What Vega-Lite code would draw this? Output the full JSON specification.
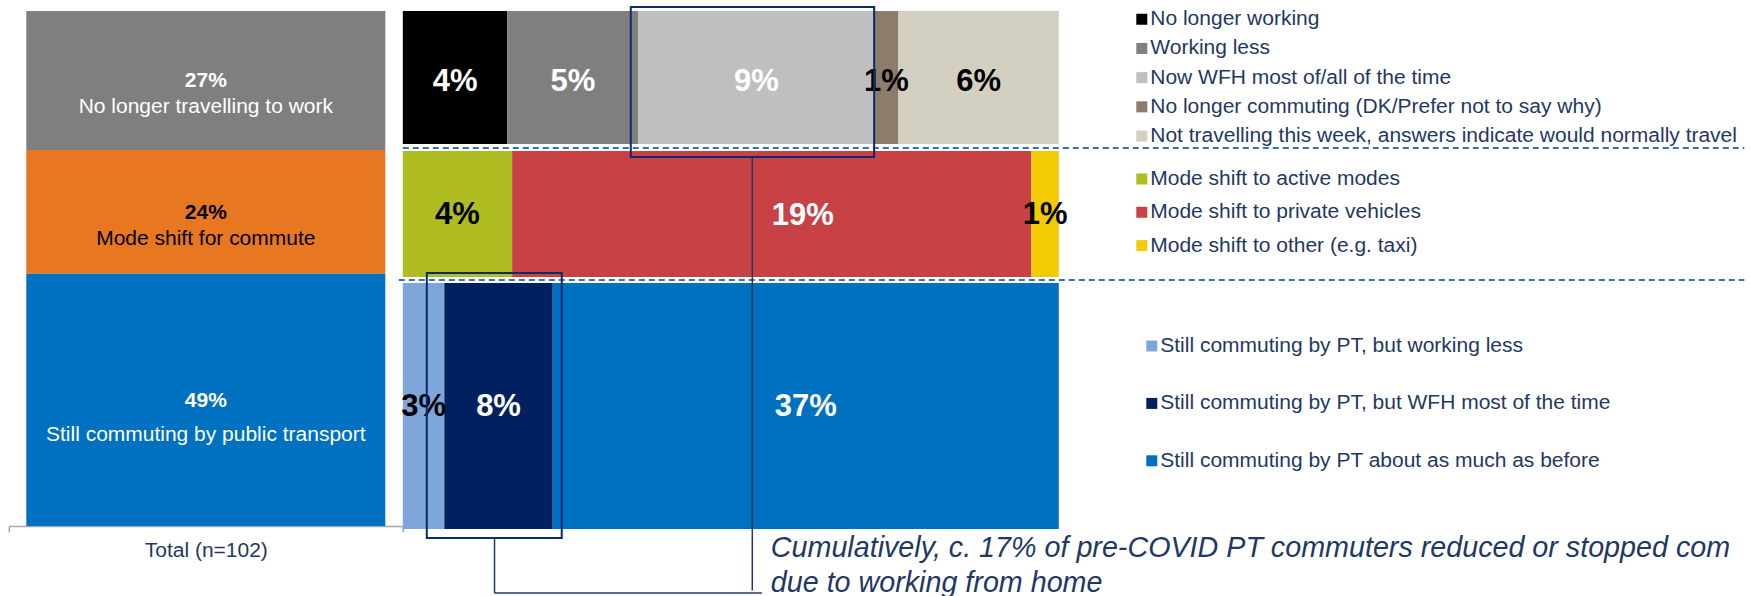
{
  "$schema": "https://vega.github.io/schema/vega-lite/v6.json",
  "background": "#ffffff",
  "padding": {"left": 7.8, "top": 5.75, "right": 0, "bottom": 0},
  "autosize": {"type": "pad"},
  "bounds": "flush",
  "spacing": 0,
  "config": {"view": {"stroke": null}, "font": "Liberation Sans"},
  "hconcat": [
    {
      "width": 394,
      "height": 515,
      "data": {"values": [
        {"section": "Total (n=102)", "group": "No longer travelling to work", "value": 27, "pct": "27%"},
        {"section": "Total (n=102)", "group": "Mode shift for commute", "value": 24, "pct": "24%"},
        {"section": "Total (n=102)", "group": "Still commuting by public transport", "value": 49, "pct": "49%"}
      ]},
      "transform": [{"stack": "value", "groupby": ["section"], "offset": "zero", "as": ["y0", "y1"]}],
      "encoding": {
        "x": {"field": "section", "type": "nominal", "scale": {"paddingInner": 0, "paddingOuter": 0},
          "axis": {"title": null, "labelAngle": 0, "ticks": true, "tickBand": "extent", "tickSize": 6, "tickColor": "#A6A6A6", "tickWidth": 1.5,
            "domainColor": "#A6A6A6", "domainWidth": 1.5,
            "labelFontSize": 21, "labelColor": "#1F3864", "labelPadding": 8, "offset": 3.25}}
      },
      "layer": [
        {
          "mark": {"type": "bar", "width": {"band": 0.9112}, "yOffset": 3.25, "y2Offset": 3.25},
          "encoding": {
            "y": {"field": "y0", "type": "quantitative", "scale": {"domain": [0, 100], "reverse": true, "nice": false}, "axis": null},
            "y2": {"field": "y1"},
            "color": {"field": "group", "type": "nominal",
              "scale": {"domain": ["No longer travelling to work", "Mode shift for commute", "Still commuting by public transport"], "range": ["#7F7F7F", "#E87722", "#0070C0"]},
              "legend": null}
          }
        },
        {
          "transform": [
            {"fold": ["y0", "y1"], "as": ["ye", "yv"]},
            {"aggregate": [{"op": "mean", "field": "yv", "as": "ym"}], "groupby": ["section", "group", "pct"]}
          ],
          "mark": {"type": "text", "fontSize": 21, "fontWeight": "bold", "yOffset": 3.25, "dy": 0.7},
          "encoding": {
            "y": {"field": "ym", "type": "quantitative", "scale": {"domain": [0, 100], "reverse": true, "nice": false}, "axis": null},
            "text": {"field": "pct"},
            "color": {"condition": {"test": "datum.group === 'Mode shift for commute'", "value": "#000000"}, "value": "#FFFFFF"}
          }
        },
        {
          "transform": [
            {"filter": "datum.group !== 'Still commuting by public transport'"},
            {"fold": ["y0", "y1"], "as": ["ye", "yv"]},
            {"aggregate": [{"op": "mean", "field": "yv", "as": "ym"}], "groupby": ["section", "group"]}
          ],
          "mark": {"type": "text", "fontSize": 21, "yOffset": 3.25, "dy": 26.8},
          "encoding": {
            "y": {"field": "ym", "type": "quantitative", "scale": {"domain": [0, 100], "reverse": true, "nice": false}, "axis": null},
            "text": {"field": "group"},
            "color": {"condition": {"test": "datum.group === 'Mode shift for commute'", "value": "#000000"}, "value": "#FFFFFF"}
          }
        },
        {
          "transform": [
            {"filter": "datum.group === 'Still commuting by public transport'"},
            {"fold": ["y0", "y1"], "as": ["ye", "yv"]},
            {"aggregate": [{"op": "mean", "field": "yv", "as": "ym"}], "groupby": ["section", "group"]}
          ],
          "mark": {"type": "text", "fontSize": 21, "yOffset": 3.25, "dy": 35.4, "color": "#FFFFFF"},
          "encoding": {
            "y": {"field": "ym", "type": "quantitative", "scale": {"domain": [0, 100], "reverse": true, "nice": false}, "axis": null},
            "text": {"field": "group"}
          }
        }
      ]
    },
    {
      "width": 656,
      "height": 524.5,
      "data": {"values": [
        {"group": "No longer travelling to work", "category": "No longer working", "value": 4.3, "label": "4%"},
        {"group": "No longer travelling to work", "category": "Working less", "value": 5.4, "label": "5%"},
        {"group": "No longer travelling to work", "category": "Now WFH most of/all of the time", "value": 9.7, "label": "9%"},
        {"group": "No longer travelling to work", "category": "No longer commuting (DK/Prefer not to say why)", "value": 1.0, "label": "1%"},
        {"group": "No longer travelling to work", "category": "Not travelling this week, answers indicate would normally travel", "value": 6.6, "label": "6%"},
        {"group": "Mode shift for commute", "category": "Mode shift to active modes", "value": 4.0, "label": "4%"},
        {"group": "Mode shift for commute", "category": "Mode shift to private vehicles", "value": 19.0, "label": "19%"},
        {"group": "Mode shift for commute", "category": "Mode shift to other (e.g. taxi)", "value": 1.0, "label": "1%"},
        {"group": "Still commuting by public transport", "category": "Still commuting by PT, but working less", "value": 3.1, "label": "3%"},
        {"group": "Still commuting by public transport", "category": "Still commuting by PT, but WFH most of the time", "value": 8.1, "label": "8%"},
        {"group": "Still commuting by public transport", "category": "Still commuting by PT about as much as before", "value": 37.8, "label": "37%"}
      ]},
      "transform": [
        {"stack": "value", "groupby": ["group"], "offset": "normalize", "as": ["x0", "x1"]},
        {"stack": "value", "groupby": [], "offset": "zero", "as": ["c0", "c1"]},
        {"joinaggregate": [{"op": "min", "field": "c0", "as": "y0"}, {"op": "max", "field": "c1", "as": "y1"}], "groupby": ["group"]}
      ],
      "resolve": {"scale": {"color": "independent"}, "legend": {"color": "independent"}},
      "layer": [
        {
          "transform": [{"filter": "datum.group === 'No longer travelling to work'"}],
          "mark": {"type": "rect", "yOffset": 3.25, "y2Offset": -5.4},
          "encoding": {
            "x": {"field": "x0", "type": "quantitative", "scale": {"domain": [0, 1], "nice": false, "zero": false}, "axis": null},
            "x2": {"field": "x1"},
            "y": {"field": "y0", "type": "quantitative", "scale": {"domain": [0, 100], "reverse": true, "nice": false}, "axis": null},
            "y2": {"field": "y1"},
            "color": {"field": "category", "type": "nominal",
              "scale": {"domain": ["No longer working", "Working less", "Now WFH most of/all of the time", "No longer commuting (DK/Prefer not to say why)", "Not travelling this week, answers indicate would normally travel"],
                "range": ["#000000", "#7F7F7F", "#BFBFBF", "#8C7C6C", "#D3D0C2"]},
              "legend": {"orient": "none", "legendX": 728.5, "legendY": 1, "title": null, "padding": 0, "symbolType": "square", "symbolSize": 121, "symbolStrokeWidth": 0,
                "labelFontSize": 21, "labelColor": "#1F3864", "labelOffset": -2, "rowPadding": 7.2, "labelLimit": 0}}
          }
        },
        {
          "transform": [{"filter": "datum.group === 'Mode shift for commute'"}],
          "mark": {"type": "rect", "yOffset": 1.6, "y2Offset": 1.75},
          "encoding": {
            "x": {"field": "x0", "type": "quantitative", "scale": {"domain": [0, 1], "nice": false, "zero": false}, "axis": null},
            "x2": {"field": "x1"},
            "y": {"field": "y0", "type": "quantitative", "scale": {"domain": [0, 100], "reverse": true, "nice": false}, "axis": null},
            "y2": {"field": "y1"},
            "color": {"field": "category", "type": "nominal",
              "scale": {"domain": ["Mode shift to active modes", "Mode shift to private vehicles", "Mode shift to other (e.g. taxi)"],
                "range": ["#AFBD22", "#C84245", "#F2CB05"]},
              "legend": {"orient": "none", "legendX": 728.5, "legendY": 160.75, "title": null, "padding": 0, "symbolType": "square", "symbolSize": 121, "symbolStrokeWidth": 0,
                "labelFontSize": 21, "labelColor": "#1F3864", "labelOffset": -2, "rowPadding": 11.3, "labelLimit": 0}}
          }
        },
        {
          "transform": [{"filter": "datum.group === 'Still commuting by public transport'"}],
          "mark": {"type": "rect", "yOffset": 7.75, "y2Offset": -3.25},
          "encoding": {
            "x": {"field": "x0", "type": "quantitative", "scale": {"domain": [0, 1], "nice": false, "zero": false}, "axis": null},
            "x2": {"field": "x1"},
            "y": {"field": "y0", "type": "quantitative", "scale": {"domain": [0, 100], "reverse": true, "nice": false}, "axis": null},
            "y2": {"field": "y1"},
            "color": {"field": "category", "type": "nominal",
              "scale": {"domain": ["Still commuting by PT, but working less", "Still commuting by PT, but WFH most of the time", "Still commuting by PT about as much as before"],
                "range": ["#7FA6DA", "#002060", "#0070C0"]},
              "legend": {"orient": "none", "legendX": 738.5, "legendY": 327.75, "title": null, "padding": 0, "symbolType": "square", "symbolSize": 121, "symbolStrokeWidth": 0,
                "labelFontSize": 21, "labelColor": "#1F3864", "labelOffset": -2, "rowPadding": 35.4, "labelLimit": 0}}
          }
        },
        {
          "transform": [
            {"filter": "datum.group === 'No longer travelling to work'"},
            {"aggregate": [{"op": "max", "field": "y1", "as": "yb"}], "groupby": ["group"]}
          ],
          "mark": {"type": "rule", "color": "#2E75B6", "strokeWidth": 2, "strokeDash": [6, 4], "yOffset": -1.4},
          "encoding": {
            "x": {"datum": 0, "scale": {"domain": [0, 1], "nice": false, "zero": false}, "axis": null},
            "x2": {"datum": 2.045},
            "y": {"field": "yb", "type": "quantitative", "scale": {"domain": [0, 100], "reverse": true, "nice": false}, "axis": null}
          }
        },
        {
          "transform": [
            {"filter": "datum.group === 'Mode shift for commute'"},
            {"aggregate": [{"op": "max", "field": "y1", "as": "yb"}], "groupby": ["group"]}
          ],
          "mark": {"type": "rule", "color": "#2E75B6", "strokeWidth": 2, "strokeDash": [6, 4], "yOffset": 4.75, "xOffset": -4},
          "encoding": {
            "x": {"datum": 0, "scale": {"domain": [0, 1], "nice": false, "zero": false}, "axis": null},
            "x2": {"datum": 2.045},
            "y": {"field": "yb", "type": "quantitative", "scale": {"domain": [0, 100], "reverse": true, "nice": false}, "axis": null}
          }
        },
        {
          "transform": [
            {"filter": "datum.category !== 'Mode shift to private vehicles'"},
            {"fold": ["x0", "x1"], "as": ["xe", "xv"]},
            {"aggregate": [{"op": "mean", "field": "xv", "as": "xm"}], "groupby": ["category", "label", "y0", "y1"]},
            {"fold": ["y0", "y1"], "as": ["ye", "yv"]},
            {"aggregate": [{"op": "mean", "field": "yv", "as": "ym"}], "groupby": ["category", "label", "xm"]}
          ],
          "mark": {"type": "text", "fontSize": 31, "fontWeight": "bold", "dy": 3},
          "encoding": {
            "x": {"field": "xm", "type": "quantitative", "scale": {"domain": [0, 1], "nice": false, "zero": false}, "axis": null},
            "y": {"field": "ym", "type": "quantitative", "scale": {"domain": [0, 100], "reverse": true, "nice": false}, "axis": null},
            "text": {"field": "label"},
            "color": {"condition": {"test": "indexof(['No longer working','Working less','Now WFH most of/all of the time','Still commuting by PT, but WFH most of the time','Still commuting by PT about as much as before'], datum.category) >= 0", "value": "#FFFFFF"}, "value": "#000000"}
          }
        },
        {
          "transform": [
            {"filter": "datum.category === 'Mode shift to private vehicles'"},
            {"fold": ["x0", "x1"], "as": ["xe", "xv"]},
            {"aggregate": [{"op": "mean", "field": "xv", "as": "xm"}], "groupby": ["category", "label", "y0", "y1"]},
            {"fold": ["y0", "y1"], "as": ["ye", "yv"]},
            {"aggregate": [{"op": "mean", "field": "yv", "as": "ym"}], "groupby": ["category", "label", "xm"]}
          ],
          "mark": {"type": "text", "fontSize": 31, "fontWeight": "bold", "dy": 4, "dx": 31, "color": "#FFFFFF"},
          "encoding": {
            "x": {"field": "xm", "type": "quantitative", "scale": {"domain": [0, 1], "nice": false, "zero": false}, "axis": null},
            "y": {"field": "ym", "type": "quantitative", "scale": {"domain": [0, 100], "reverse": true, "nice": false}, "axis": null},
            "text": {"field": "label"}
          }
        },
        {
          "transform": [{"filter": "datum.category === 'Now WFH most of/all of the time'"}],
          "mark": {"type": "rect", "filled": false, "color": "#0B2B6B", "strokeWidth": 2, "xOffset": -7.7, "x2Offset": 0, "yOffset": -0.75, "y2Offset": 7.6},
          "encoding": {
            "x": {"field": "x0", "type": "quantitative", "scale": {"domain": [0, 1], "nice": false, "zero": false}, "axis": null},
            "x2": {"field": "x1"},
            "y": {"field": "y0", "type": "quantitative", "scale": {"domain": [0, 100], "reverse": true, "nice": false}, "axis": null},
            "y2": {"field": "y1"}
          }
        },
        {
          "transform": [{"filter": "datum.category === 'Still commuting by PT, but WFH most of the time'"}],
          "mark": {"type": "rect", "filled": false, "color": "#0B2B6B", "strokeWidth": 2, "xOffset": -17.5, "x2Offset": 9, "yOffset": -2.25, "y2Offset": 5.75},
          "encoding": {
            "x": {"field": "x0", "type": "quantitative", "scale": {"domain": [0, 1], "nice": false, "zero": false}, "axis": null},
            "x2": {"field": "x1"},
            "y": {"field": "y0", "type": "quantitative", "scale": {"domain": [0, 100], "reverse": true, "nice": false}, "axis": null},
            "y2": {"field": "y1"}
          }
        },
        {
          "transform": [
            {"filter": "datum.category === 'Now WFH most of/all of the time'"},
            {"fold": ["x0", "x1"], "as": ["xe", "xv"]},
            {"aggregate": [{"op": "mean", "field": "xv", "as": "xm"}], "groupby": ["category", "y1"]}
          ],
          "mark": {"type": "rule", "color": "#1F3864", "strokeWidth": 1.5, "xOffset": -4, "yOffset": 8.6, "y2Offset": 58.25},
          "encoding": {
            "x": {"field": "xm", "type": "quantitative", "scale": {"domain": [0, 1], "nice": false, "zero": false}, "axis": null},
            "y": {"field": "y1", "type": "quantitative", "scale": {"domain": [0, 100], "reverse": true, "nice": false}, "axis": null},
            "y2": {"datum": 100}
          }
        },
        {
          "transform": [
            {"filter": "datum.category === 'Still commuting by PT, but WFH most of the time'"},
            {"fold": ["x0", "x1"], "as": ["xe", "xv"]},
            {"aggregate": [{"op": "mean", "field": "xv", "as": "xm"}], "groupby": ["category"]}
          ],
          "mark": {"type": "rule", "color": "#1F3864", "strokeWidth": 1.5, "xOffset": -4, "yOffset": 6.75, "y2Offset": 60.75},
          "encoding": {
            "x": {"field": "xm", "type": "quantitative", "scale": {"domain": [0, 1], "nice": false, "zero": false}, "axis": null},
            "y": {"datum": 100, "scale": {"domain": [0, 100], "reverse": true, "nice": false}, "axis": null},
            "y2": {"datum": 100}
          }
        },
        {
          "transform": [
            {"filter": "datum.category === 'Still commuting by PT, but WFH most of the time'"},
            {"fold": ["x0", "x1"], "as": ["xe", "xv"]},
            {"aggregate": [{"op": "mean", "field": "xv", "as": "xm"}], "groupby": ["category"]}
          ],
          "mark": {"type": "rule", "color": "#1F3864", "strokeWidth": 1.5, "xOffset": -4, "yOffset": 60.75},
          "encoding": {
            "x": {"field": "xm", "type": "quantitative", "scale": {"domain": [0, 1], "nice": false, "zero": false}, "axis": null},
            "x2": {"datum": 0.5473},
            "y": {"datum": 100, "scale": {"domain": [0, 100], "reverse": true, "nice": false}, "axis": null}
          }
        },
        {
          "data": {"values": [{"note": "Cumulatively, c. 17% of pre-COVID PT commuters reduced or stopped commuting\ndue to working from home"}]},
          "mark": {"type": "text", "align": "left", "baseline": "top", "fontStyle": "italic", "fontSize": 28.7, "lineHeight": 35, "lineBreak": "\n",
            "color": "#1F3864", "limit": 978, "ellipsis": " ", "yOffset": 2.05},
          "encoding": {
            "x": {"datum": 0.561, "scale": {"domain": [0, 1], "nice": false, "zero": false}, "axis": null},
            "y": {"datum": 100, "scale": {"domain": [0, 100], "reverse": true, "nice": false}, "axis": null},
            "text": {"field": "note"}
          }
        }
      ]
    }
  ]
}
